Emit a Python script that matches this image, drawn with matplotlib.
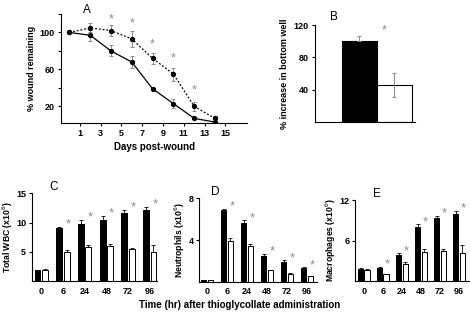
import numpy as np
import matplotlib
matplotlib.use("Agg")
import matplotlib.pyplot as plt

plt.rcParams['font.family'] = ['Liberation Sans', 'DejaVu Sans']

# panel A - wound closure
days = [0, 2, 4, 6, 8, 10, 12, 14]
ctrl = [100, 97, 80, 68, 39, 23, 7, 3]
ctrl_err = [0, 6, 6, 6, 1, 5, 1, 1]
ko = [100, 105, 102, 93, 72, 55, 20, 7]
ko_err = [0, 5, 6, 9, 6, 7, 5, 3]
star_days = [4, 6, 8, 10, 12]
star_a = [114, 110, 87, 72, 37]

# panel B - migration
b_vals = [100, 46]
b_err = [7, 15]

# panels C-E
hours = ['0', '6', '24', '48', '72', '96']
wbc_wt = [1.8, 9.0, 9.7, 10.5, 11.7, 12.1]
wbc_wt_err = [0.1, 0.2, 0.8, 0.6, 0.5, 0.6]
wbc_ko = [1.9, 5.0, 5.9, 6.0, 5.5, 5.0]
wbc_ko_err = [0.2, 0.3, 0.3, 0.3, 0.2, 1.1]
neu_wt = [0.15, 6.9, 5.6, 2.5, 1.9, 1.3]
neu_wt_err = [0.05, 0.1, 0.3, 0.2, 0.15, 0.1]
neu_ko = [0.15, 3.9, 3.4, 1.1, 0.75, 0.5]
neu_ko_err = [0.05, 0.3, 0.25, 0.05, 0.1, 0.05]
mac_wt = [1.8, 2.0, 3.8, 8.0, 9.3, 10.0]
mac_wt_err = [0.1, 0.1, 0.3, 0.4, 0.4, 0.4]
mac_ko = [1.6, 1.0, 2.5, 4.3, 4.5, 4.2]
mac_ko_err = [0.15, 0.1, 0.3, 0.5, 0.3, 1.2]

grey = '#8a8a8a'
tfs = 6.5
lfs = 6.5

fig = plt.figure(figsize=(4.70, 3.19), dpi=100)


def clean(ax):
    for s in ['top', 'right']:
        ax.spines[s].set_visible(False)
    for s in ['left', 'bottom']:
        ax.spines[s].set_linewidth(0.8)
    ax.tick_params(direction='out', length=2.5, width=0.8, labelsize=tfs, pad=2)
    for lab in ax.get_xticklabels() + ax.get_yticklabels():
        lab.set_fontweight('bold')


# ---- A
axA = fig.add_axes([0.130, 0.6144, 0.396, 0.3417])
axA.errorbar(days, ctrl, yerr=ctrl_err, color='black', lw=0.9, marker='o', ms=2.8,
             ecolor=grey, elinewidth=0.7, capsize=1.5, capthick=0.7)
axA.errorbar(days, ko, yerr=ko_err, color='black', lw=0.9, ls=(0, (1.5, 1.5)), marker='o', ms=2.8,
             ecolor=grey, elinewidth=0.7, capsize=1.5, capthick=0.7)
for d, v in zip(star_days, star_a):
    axA.text(d, v, '*', color=grey, ha='center', va='center', fontsize=9)
axA.set_xlim(-0.8, 17.1)
axA.set_ylim(2, 120)
axA.set_xticks([1, 3, 5, 7, 9, 11, 13, 15])
axA.set_yticks([20, 60, 100])
axA.set_yticks([40, 80, 120], minor=True)
axA.tick_params(axis='y', which='minor', length=2.5, width=0.8)
clean(axA)
axA.set_xlabel('Days post-wound', fontsize=lfs + 0.5, fontweight='bold', labelpad=3)
axA.set_ylabel('% wound remaining', fontsize=lfs, fontweight='bold', labelpad=3)
axA.text(0.12, 1.01, 'A', transform=axA.transAxes, fontsize=8.5)

# ---- B
axB = fig.add_axes([0.670, 0.6176, 0.213, 0.304])
axB.bar([0, 1], b_vals, width=1, color=['black', 'white'], edgecolor='black', lw=0.8)
axB.errorbar([0, 1], b_vals, yerr=[[0, 15], b_err], fmt='none', ecolor=grey, elinewidth=0.7,
             capsize=1.5, capthick=0.7)
axB.text(0.73, 113, '*', color=grey, ha='center', va='center', fontsize=9)
axB.set_xlim(-1.26, 1.6)
axB.set_ylim(0, 120)
axB.set_xticks([])
axB.set_yticks([40, 80, 120])
clean(axB)
axB.set_ylabel('% increase in bottom well', fontsize=lfs, fontweight='bold', labelpad=3)
axB.text(0.15, 1.05, 'B', transform=axB.transAxes, fontsize=8.5)


def bars(rect, wt, wt_err, ko_v, ko_err_v, ylim, yticks, ylabel, letter, xlim, star_dy, lx):
    ax = fig.add_axes(rect)
    x = np.arange(len(hours))
    w = 0.27
    ax.bar(x - 0.17, wt, width=w, color='black', edgecolor='black', lw=0.7)
    ax.bar(x + 0.17, ko_v, width=w, color='white', edgecolor='black', lw=0.7)
    ax.errorbar(x - 0.17, wt, yerr=[np.zeros(len(x)), wt_err], fmt='none', ecolor='black',
                elinewidth=0.6, capsize=1.2, capthick=0.6)
    ax.errorbar(x + 0.17, ko_v, yerr=[np.zeros(len(x)), ko_err_v], fmt='none', ecolor='black',
                elinewidth=0.6, capsize=1.2, capthick=0.6)
    for i in range(1, len(x)):
        ax.text(x[i] + 0.25, wt[i] + wt_err[i] + star_dy, '*', color=grey, ha='center',
                va='center', fontsize=9.5)
    ax.set_xlim(*xlim)
    ax.set_ylim(*ylim)
    ax.set_xticks(x)
    ax.set_xticklabels(hours)
    ax.set_yticks(yticks)
    clean(ax)
    ax.tick_params(axis='x', length=0, pad=4)
    ax.tick_params(axis='y', pad=1.5)
    ax.set_ylabel(ylabel, fontsize=6.2, fontweight='bold', labelpad=1)
    ax.text(lx, 1.04, letter, transform=ax.transAxes, fontsize=8.5)
    return ax


bars([0.0674, 0.1191, 0.266, 0.275], wbc_wt, wbc_wt_err, wbc_ko, wbc_ko_err,
     (0, 15), [5, 10, 15], 'Total WBC (x10$^6$)', 'C', (-0.44, 5.32), 0.4, 0.14)
bars([0.4234, 0.117, 0.251, 0.261], neu_wt, neu_wt_err, neu_ko, neu_ko_err,
     (0, 8), [4, 8], 'Neutrophils (x10$^6$)', 'D', (-0.4, 5.5), 0.2, 0.1)
bars([0.755, 0.119, 0.245, 0.254], mac_wt, mac_wt_err, mac_ko, mac_ko_err,
     (0, 12), [6, 12], 'Macrophages (x10$^6$)', 'E', (-0.47, 5.58), 0.35, 0.16)

fig.text(0.51, 0.035, 'Time (hr) after thioglycollate administration', ha='center',
         fontsize=lfs + 0.5, fontweight='bold')

fig.savefig('out.png', dpi=100)
